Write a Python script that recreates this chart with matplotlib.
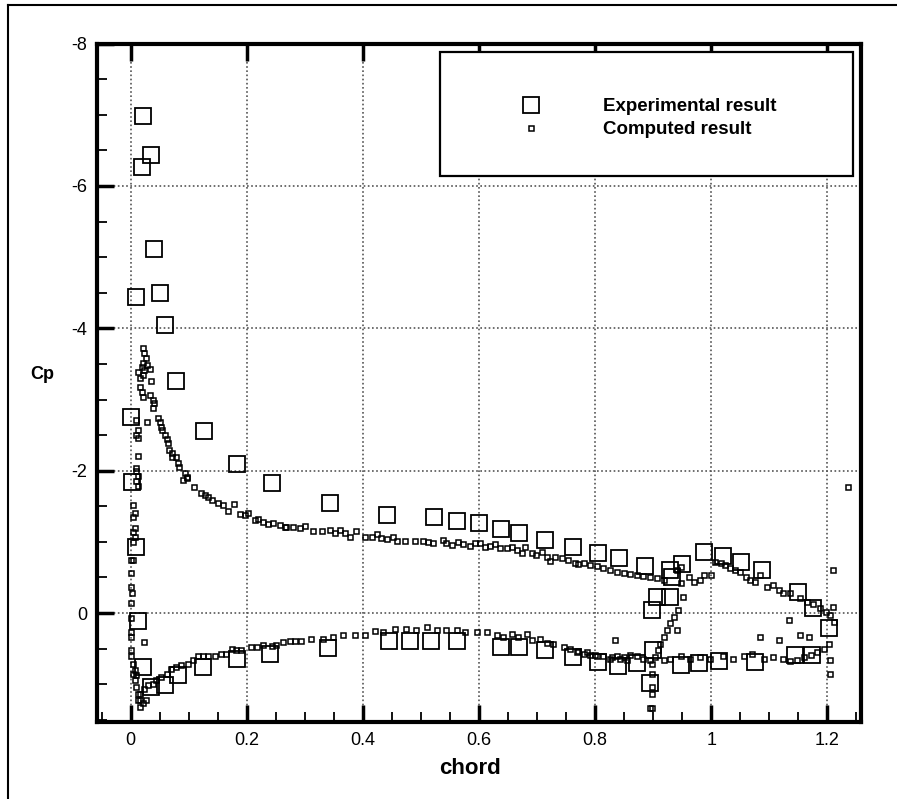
import matplotlib
matplotlib.use("Agg")
from matplotlib import pyplot as plt
from matplotlib.lines import Line2D
from matplotlib.patches import Rectangle
from matplotlib.ticker import MultipleLocator

# experimental pressure coefficient (large hollow squares)
exp_x = [0.022, 0.036, 0.019, 0.040, 0.010, 0.050, 0.060, 0.079, 0.000, 0.126,
         0.184, 0.002, 0.243, 0.009, 0.343, 0.441, 0.522, 0.562, 0.600, 0.638,
         0.669, 0.714, 0.762, 0.805, 0.841, 0.886, 0.929, 0.950, 0.988, 1.021,
         1.052, 1.088, 1.150, 1.176, 1.202, 1.174, 1.145, 0.907, 0.929, 0.898,
         0.900, 0.895, 0.932, 0.805, 0.840, 0.872, 0.947, 0.979, 1.014, 1.076,
         0.445, 0.481, 0.517, 0.562, 0.638, 0.669, 0.714, 0.762, 0.012, 0.021,
         0.036, 0.059, 0.081, 0.124, 0.183, 0.240, 0.340]
exp_cp = [-6.98, -6.44, -6.27, -5.12, -4.44, -4.50, -4.05, -3.26, -2.76, -2.56,
          -2.10, -1.84, -1.83, -0.93, -1.55, -1.38, -1.35, -1.29, -1.27, -1.18,
          -1.13, -1.03, -0.93, -0.84, -0.77, -0.66, -0.60, -0.69, -0.86, -0.80,
          -0.72, -0.60, -0.30, -0.07, 0.21, 0.59, 0.59, -0.23, -0.23, -0.04,
          0.52, 0.98, -0.51, 0.69, 0.75, 0.70, 0.73, 0.70, 0.67, 0.69,
          0.39, 0.39, 0.39, 0.39, 0.48, 0.48, 0.52, 0.62, 0.11, 0.76,
          1.04, 1.01, 0.87, 0.76, 0.65, 0.58, 0.49]

# computed pressure coefficient (small squares)
# main element, upper surface
up_x = [0.021, 0.024, 0.027, 0.021, 0.019, 0.024, 0.029, 0.033, 0.012, 0.016,
        0.021, 0.036, 0.016, 0.019, 0.021, 0.033, 0.038, 0.041, 0.038, 0.029,
        0.047, 0.050, 0.053, 0.055, 0.059, 0.062, 0.064, 0.067, 0.072, 0.071,
        0.079, 0.081, 0.084, 0.093, 0.097, 0.090, 0.098, 0.110, 0.122, 0.128,
        0.133, 0.141, 0.150, 0.159, 0.167, 0.178, 0.188, 0.197, 0.202, 0.214,
        0.219, 0.228, 0.236, 0.245, 0.257, 0.266, 0.268, 0.280, 0.291, 0.300,
        0.314, 0.329, 0.343, 0.352, 0.360, 0.369, 0.378, 0.389, 0.403, 0.415,
        0.424, 0.432, 0.441, 0.452, 0.458, 0.472, 0.490, 0.504, 0.513, 0.521,
        0.538, 0.544, 0.553, 0.564, 0.573, 0.584, 0.593, 0.602, 0.610, 0.619,
        0.628, 0.636, 0.648, 0.656, 0.665, 0.674, 0.679, 0.691, 0.699, 0.708,
        0.717, 0.722, 0.731, 0.743, 0.754, 0.766, 0.771, 0.780, 0.791, 0.803,
        0.814, 0.826, 0.837, 0.849, 0.860, 0.872, 0.883, 0.895, 0.906, 0.918]
up_cp = [-3.73, -3.66, -3.59, -3.52, -3.45, -3.42, -3.49, -3.43, -3.38, -3.30,
         -3.35, -3.26, -3.18, -3.11, -3.04, -3.07, -3.00, -2.95, -2.88, -2.69,
         -2.74, -2.69, -2.62, -2.57, -2.50, -2.45, -2.39, -2.29, -2.25, -2.19,
         -2.19, -2.11, -2.05, -1.97, -1.91, -1.87, -1.90, -1.77, -1.69, -1.66,
         -1.63, -1.59, -1.55, -1.52, -1.43, -1.53, -1.39, -1.38, -1.41, -1.31,
         -1.32, -1.28, -1.25, -1.27, -1.24, -1.21, -1.21, -1.21, -1.19, -1.22,
         -1.16, -1.16, -1.17, -1.13, -1.17, -1.12, -1.07, -1.16, -1.07, -1.07,
         -1.11, -1.05, -1.04, -1.07, -1.01, -1.01, -1.01, -1.01, -1.00, -0.98,
         -1.02, -0.98, -0.95, -1.00, -0.97, -0.94, -0.98, -0.99, -0.93, -0.94,
         -0.97, -0.91, -0.91, -0.93, -0.89, -0.84, -0.93, -0.84, -0.82, -0.86,
         -0.79, -0.73, -0.79, -0.77, -0.75, -0.70, -0.69, -0.70, -0.68, -0.66,
         -0.64, -0.61, -0.58, -0.56, -0.55, -0.53, -0.52, -0.50, -0.49, -0.46]

# leading edge stagnation region
le_x = [0.010, 0.013, 0.010, 0.013, 0.013, 0.010, 0.010, 0.013, 0.010, 0.013,
        0.004, 0.007, 0.004, 0.007, 0.004, 0.007, 0.004, 0.001, 0.004, 0.001,
        0.001, 0.003, 0.001, 0.001, 0.001, 0.001, 0.001, 0.001, 0.004, 0.004,
        0.007, 0.010, 0.013, 0.016, 0.016, 0.021, 0.027, 0.024, 0.007, 0.010,
        0.013]
le_cp = [-2.71, -2.57, -2.50, -2.46, -2.20, -2.04, -1.99, -1.92, -1.85, -1.78,
         -1.52, -1.40, -1.35, -1.19, -1.14, -1.07, -1.00, -0.75, -0.75, -0.56,
         -0.37, -0.28, -0.14, 0.07, 0.26, 0.33, 0.52, 0.61, 0.71, 0.85,
         0.94, 1.04, 1.13, 1.22, 1.32, 1.27, 1.22, 0.40, 0.80, 0.87,
         1.22]

# main element, lower surface
lo_x = [0.016, 0.024, 0.030, 0.038, 0.044, 0.053, 0.062, 0.070, 0.079, 0.087,
        0.099, 0.107, 0.116, 0.125, 0.133, 0.145, 0.156, 0.165, 0.174, 0.182,
        0.191, 0.208, 0.217, 0.228, 0.243, 0.251, 0.263, 0.274, 0.283, 0.294,
        0.311, 0.331, 0.349, 0.366, 0.386, 0.403, 0.421, 0.435, 0.455, 0.475,
        0.492, 0.510, 0.527, 0.544, 0.562, 0.576, 0.596, 0.613, 0.631, 0.642,
        0.657, 0.668, 0.682, 0.691, 0.705, 0.717, 0.728, 0.746, 0.757, 0.771,
        0.786, 0.800, 0.814, 0.829, 0.843, 0.855, 0.769, 0.780, 0.791, 0.803,
        0.826, 0.837, 0.849, 0.860, 0.872, 0.883, 0.895, 0.834]
lo_cp = [1.13, 1.06, 1.01, 0.99, 0.94, 0.90, 0.85, 0.78, 0.76, 0.73,
         0.71, 0.66, 0.61, 0.61, 0.61, 0.61, 0.57, 0.57, 0.50, 0.52,
         0.52, 0.47, 0.47, 0.45, 0.46, 0.45, 0.40, 0.39, 0.39, 0.39,
         0.37, 0.36, 0.33, 0.31, 0.31, 0.31, 0.25, 0.26, 0.22, 0.22,
         0.24, 0.19, 0.24, 0.24, 0.24, 0.26, 0.26, 0.26, 0.31, 0.33,
         0.29, 0.33, 0.30, 0.38, 0.36, 0.42, 0.43, 0.48, 0.50, 0.53,
         0.54, 0.59, 0.61, 0.62, 0.65, 0.66, 0.54, 0.57, 0.59, 0.61,
         0.64, 0.61, 0.62, 0.59, 0.61, 0.64, 0.66, 0.38]

# shock / gap region near x = 0.9
sh_x = [0.941, 0.947, 0.947, 0.952, 0.943, 0.935, 0.929, 0.924, 0.918, 0.912,
        0.909, 0.903, 0.898, 0.898, 0.898, 0.898, 0.898, 0.941, 0.895]
sh_cp = [-0.60, -0.65, -0.42, -0.23, -0.04, 0.05, 0.14, 0.24, 0.33, 0.43,
         0.52, 0.62, 0.71, 0.85, 1.04, 1.13, 1.34, 0.24, 1.34]

# flap
fl_x = [0.962, 0.971, 0.980, 0.988, 1.000, 1.007, 1.016, 1.024, 1.033, 1.041,
        1.050, 1.059, 1.067, 1.076, 1.084, 1.096, 1.107, 1.116, 1.124, 1.136,
        1.153, 1.165, 1.176, 1.188, 1.197, 1.205, 1.211, 1.209, 1.209, 1.205,
        1.205, 0.918, 0.929, 0.947, 0.964, 0.981, 0.998, 1.021, 1.038, 1.056,
        1.070, 1.090, 1.107, 1.124, 1.136, 1.147, 1.159, 1.171, 1.182, 1.194,
        1.203, 1.084, 1.117, 1.152, 1.169, 1.134, 1.236]
fl_cp = [-0.51, -0.44, -0.47, -0.53, -0.53, -0.72, -0.70, -0.68, -0.63, -0.60,
         -0.58, -0.51, -0.46, -0.44, -0.53, -0.37, -0.39, -0.32, -0.28, -0.28,
         -0.21, -0.16, -0.13, -0.07, -0.02, 0.03, 0.12, -0.60, -0.09, 0.66,
         0.85, 0.66, 0.64, 0.61, 0.64, 0.62, 0.64, 0.61, 0.64, 0.60,
         0.57, 0.64, 0.62, 0.64, 0.67, 0.66, 0.62, 0.59, 0.54, 0.50,
         0.43, 0.33, 0.38, 0.31, 0.33, 0.10, -1.77]

comp_x = up_x + le_x + lo_x + sh_x + fl_x
comp_cp = up_cp + le_cp + lo_cp + sh_cp + fl_cp

plt.rcParams["font.family"] = ["Liberation Sans", "DejaVu Sans"]

fig = plt.figure(figsize=(8.97, 7.99), dpi=100)
ax = fig.add_axes([0.108, 0.0964, 0.852, 0.849])

ax.plot(exp_x, exp_cp, linestyle="none", marker="s", markersize=11.5,
        markerfacecolor="none", markeredgecolor="black", markeredgewidth=1.3)
ax.plot(comp_x, comp_cp, linestyle="none", marker="s", markersize=3.6,
        markerfacecolor="none", markeredgecolor="black", markeredgewidth=1.1)

ax.set_xlim(-0.058, 1.258)
ax.set_ylim(1.53, -8)

ax.xaxis.set_minor_locator(MultipleLocator(0.05))
ax.yaxis.set_minor_locator(MultipleLocator(0.5))
ax.set_xticks([0, 0.2, 0.4, 0.6, 0.8, 1.0, 1.2])
ax.set_xticklabels(["0", "0.2", "0.4", "0.6", "0.8", "1", "1.2"])
ax.set_yticks([0, -2, -4, -6, -8])
ax.set_yticklabels(["0", "-2", "-4", "-6", "-8"])

ax.tick_params(which="major", direction="in", length=12, width=2.5,
               labelsize=13, pad=7, top=True)
ax.tick_params(which="minor", direction="in", length=7, width=1.3)
ax.tick_params(axis="x", which="minor", top=False)
for s in ax.spines.values():
    s.set_linewidth(3)

ax.grid(True, which="major", color="#555555", linestyle=(0, (1, 1.5)),
        linewidth=1.2)

ax.set_xlabel("chord", fontsize=16, fontweight="bold")
ax.xaxis.set_label_coords(0.488, -0.053)
ax.set_ylabel("Cp", fontsize=13, fontweight="bold", rotation=0)
ax.yaxis.set_label_coords(-0.072, 0.499)

# legend box
ax.add_patch(Rectangle((0.449, 0.805), 0.541, 0.182, transform=ax.transAxes,
                       facecolor="white", edgecolor="black", linewidth=1.6,
                       zorder=5))
handles = [Line2D([], [], linestyle="none", marker="s", markersize=11.5,
                  markerfacecolor="none", markeredgecolor="black",
                  markeredgewidth=1.3),
           Line2D([], [], linestyle="none", marker="s", markersize=3.6,
                  markerfacecolor="none", markeredgecolor="black",
                  markeredgewidth=1.1)]
leg = ax.legend(handles, ["Experimental result", "Computed result"],
                loc="center left", bbox_to_anchor=(0.527, 0.890),
                frameon=False, handlelength=1.5, handletextpad=3.1,
                labelspacing=0.3, prop={"weight": "bold", "size": 13.5})
leg.set_zorder(6)

# outer frame of the picture
fig.add_artist(Line2D([0.009, 0.009], [0, 0.994], transform=fig.transFigure,
                      color="black", linewidth=1.5))
fig.add_artist(Line2D([0.009, 1.0], [0.994, 0.994], transform=fig.transFigure,
                      color="black", linewidth=1.5))

fig.savefig("out.png", dpi=100)
